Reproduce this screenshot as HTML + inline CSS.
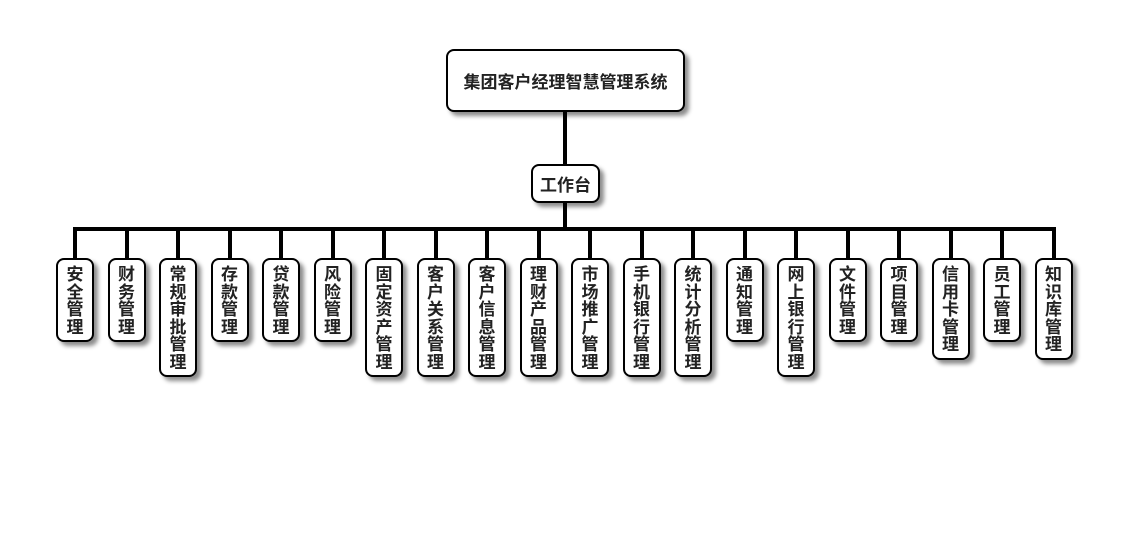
<!DOCTYPE html>
<html><head><meta charset="utf-8"><style>
body{margin:0;width:1130px;height:560px;background:#fff;position:relative;overflow:hidden;font-family:"Liberation Sans","Noto Sans CJK SC",sans-serif;}
.ln{position:absolute;background:#000;}
.b{position:absolute;background:#fff;border:2px solid #000;border-radius:8px;box-shadow:4px 4px 4px rgba(0,0,0,0.45);box-sizing:border-box;font-weight:bold;color:#222;display:flex;align-items:center;justify-content:center;text-align:center;}
.v{width:38px;top:258px;font-size:17px;line-height:17.5px;padding:6px 0;display:block;}
.v span{display:block;width:18px;margin:0 auto;word-break:break-all;}
</style></head><body>
<div class="ln" style="left:563px;top:110px;width:4px;height:56px"></div>
<div class="ln" style="left:563px;top:200px;width:4px;height:30px"></div>
<div class="ln" style="left:73px;top:227px;width:983px;height:4px"></div>
<div class="b" style="left:446px;top:49px;width:239px;height:63px;font-size:17px">集团客户经理智慧管理系统</div>
<div class="b" style="left:531px;top:164px;width:69px;height:39px;font-size:17px">工作台</div>
<div id="c"></div>
<script>
var L=["安全管理","财务管理","常规审批管理","存款管理","贷款管理","风险管理","固定资产管理","客户关系管理","客户信息管理","理财产品管理","市场推广管理","手机银行管理","统计分析管理","通知管理","网上银行管理","文件管理","项目管理","信用卡管理","员工管理","知识库管理"];
var h="";
for(var i=0;i<L.length;i++){var cx=75+i*51.5;var n=L[i].length;
h+='<div class="ln" style="left:'+(cx-2)+'px;top:229px;width:4px;height:30px"></div>';
h+='<div class="b v" style="left:'+(cx-19)+'px;height:'+(n*17.5+14)+'px"><span>'+L[i]+'</span></div>';}
document.getElementById("c").innerHTML=h;
</script>
</body></html>
